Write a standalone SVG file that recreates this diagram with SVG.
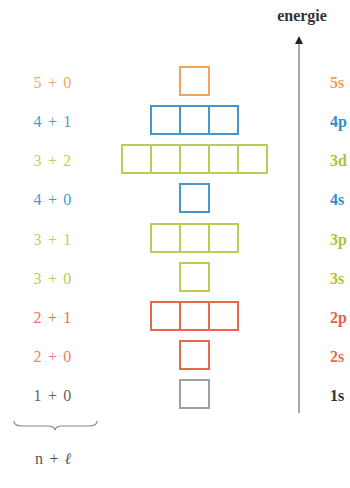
<svg xmlns="http://www.w3.org/2000/svg" width="350" height="488" viewBox="0 0 350 488">
<style>
.lbl{font-family:"Liberation Serif","DejaVu Serif",serif;font-size:16px;text-anchor:middle;letter-spacing:1.2px}
.orb{font-family:"Liberation Serif","DejaVu Serif",serif;font-size:16px;font-weight:bold}
.box{fill:none;stroke-width:2}
.o{stroke:#f0a460}.b{stroke:#4a94cc}.g{stroke:#bccb55}.r{stroke:#e8684c}.k{stroke:#a0a0a0}
</style>
<defs>
<marker id="ah" viewBox="0 0 6 6" refX="3" refY="3" markerWidth="4" markerHeight="4" orient="auto">
<path d="M0,0 L6,3 L0,6 Z" fill="#222"/>
</marker>
</defs>
<rect width="350" height="488" fill="#ffffff"/>
<g id="axis">
<text x="302" y="21" font-family="'Liberation Serif','DejaVu Serif',serif" font-size="16" font-weight="bold" text-anchor="middle" fill="#333">energie</text>
<line x1="299" y1="413" x2="299" y2="40" stroke="#a8a8a8" stroke-width="2" marker-end="url(#ah)"/>
</g>
<g id="row-5s">
<text class="lbl" x="53" y="88" fill="#f0a868">5 + 0</text>
<rect class="box o" x="180" y="67" width="29" height="28"/>
<text class="orb" x="330" y="88" fill="#f0a050">5s</text>
</g>
<g id="row-4p">
<text class="lbl" x="53" y="127" fill="#4a9ac8">4 + 1</text>
<rect class="box b" x="151" y="106" width="29" height="28"/><rect class="box b" x="180" y="106" width="29" height="28"/><rect class="box b" x="209" y="106" width="29" height="28"/>
<text class="orb" x="330" y="127" fill="#2f8fc8">4p</text>
</g>
<g id="row-3d">
<text class="lbl" x="53" y="166" fill="#c4cc60">3 + 2</text>
<rect class="box g" x="122" y="145" width="29" height="28"/><rect class="box g" x="151" y="145" width="29" height="28"/><rect class="box g" x="180" y="145" width="29" height="28"/><rect class="box g" x="209" y="145" width="29" height="28"/><rect class="box g" x="238" y="145" width="29" height="28"/>
<text class="orb" x="330" y="166" fill="#b0c040">3d</text>
</g>
<g id="row-4s">
<text class="lbl" x="53" y="205" fill="#3a9ed0">4 + 0</text>
<rect class="box b" x="180" y="184" width="29" height="28"/>
<text class="orb" x="330" y="205" fill="#2f8fc8">4s</text>
</g>
<g id="row-3p">
<text class="lbl" x="53" y="245" fill="#c0cc60">3 + 1</text>
<rect class="box g" x="151" y="224" width="29" height="28"/><rect class="box g" x="180" y="224" width="29" height="28"/><rect class="box g" x="209" y="224" width="29" height="28"/>
<text class="orb" x="330" y="245" fill="#b0c040">3p</text>
</g>
<g id="row-3s">
<text class="lbl" x="53" y="284" fill="#b8cc50">3 + 0</text>
<rect class="box g" x="180" y="263" width="29" height="28"/>
<text class="orb" x="330" y="284" fill="#b0c040">3s</text>
</g>
<g id="row-2p">
<text class="lbl" x="53" y="323" fill="#e87060">2 + 1</text>
<rect class="box r" x="151" y="302" width="29" height="28"/><rect class="box r" x="180" y="302" width="29" height="28"/><rect class="box r" x="209" y="302" width="29" height="28"/>
<text class="orb" x="330" y="323" fill="#e8604a">2p</text>
</g>
<g id="row-2s">
<text class="lbl" x="53" y="362" fill="#e88070">2 + 0</text>
<rect class="box r" x="180" y="341" width="29" height="28"/>
<text class="orb" x="330" y="362" fill="#e06a58">2s</text>
</g>
<g id="row-1s">
<text class="lbl" x="53" y="401" fill="#666">1 + 0</text>
<rect class="box k" x="180" y="380" width="29" height="28"/>
<text class="orb" x="330" y="401" fill="#333">1s</text>
</g>
<g id="legend">
<path d="M14,421 Q14,426 22,426 L48,426 Q54,426 55,430 Q56,426 62,426 L89,426 Q97,426 97,421" fill="none" stroke="#888" stroke-width="1.2"/>
<text class="lbl" x="54" y="464" fill="#555">n + <tspan font-weight="bold" font-style="italic">ℓ</tspan></text>
</g>
</svg>
